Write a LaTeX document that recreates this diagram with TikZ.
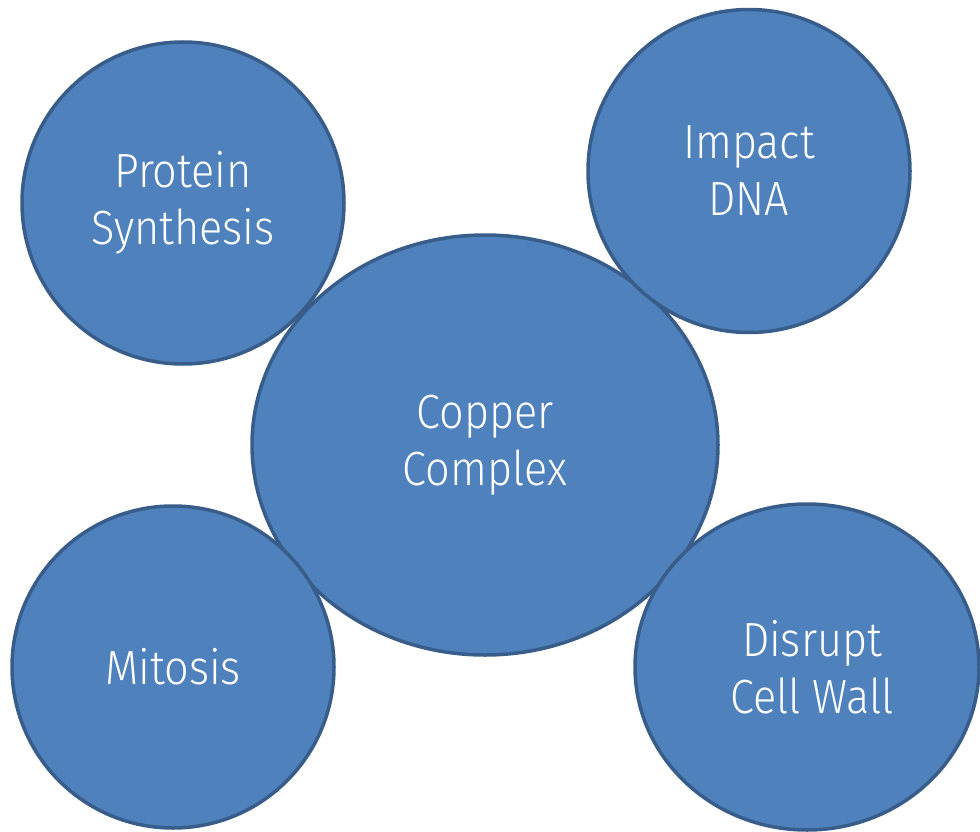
\documentclass[tikz,border=0pt]{standalone}
\usepackage{fontspec}
\setmainfont{Fira Sans}[UprightFont={* Light},FakeStretch=0.9]
\usetikzlibrary{shapes.geometric}
\definecolor{bubblefill}{HTML}{4F81BD}
\definecolor{bubbleedge}{HTML}{385D8A}
\begin{document}
\begin{tikzpicture}[x=1pt,y=-1pt,
  bubble/.style={ellipse,fill=bubblefill,draw=bubbleedge,line width=3.5pt,inner sep=0pt,
    text=white,align=center,font=\fontsize{48}{57}\selectfont}]
\useasboundingbox (0,0) rectangle (980,832);
\node[bubble,minimum width=466pt,minimum height=420pt] (copper) at (485,445) {Copper\\Complex};
\node[bubble,minimum width=322pt,minimum height=322pt] (protein) at (183,203) {Protein\\Synthesis};
\node[bubble,minimum width=322pt,minimum height=323pt] (dna) at (749,171) {Impact\\DNA};
\node[bubble,minimum width=322pt,minimum height=322pt] (mitosis) at (173,667) {Mitosis};
\node[bubble,minimum width=344pt,minimum height=326pt] (wall) at (807,667) {\hspace*{10pt}Disrupt\\\hspace*{10pt}Cell Wall};
\end{tikzpicture}
\end{document}
